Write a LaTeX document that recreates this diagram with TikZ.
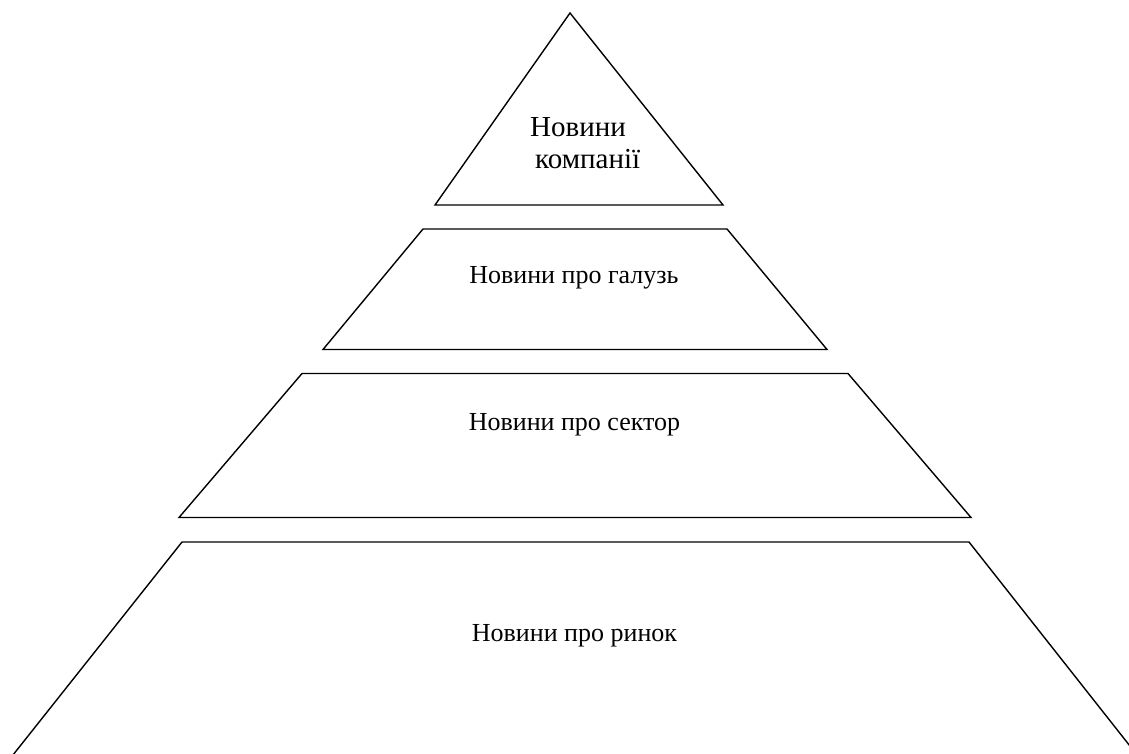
\documentclass[tikz,border=0pt]{standalone}
\usepackage{fontspec}
\setmainfont{Liberation Serif}
\begin{document}
\begin{tikzpicture}[x=1pt,y=-1pt,
  tier/.style={draw=black,line width=1.4pt,line join=miter},
  lbl/.style={font=\fontsize{26}{30}\selectfont,anchor=base,inner sep=0pt},
  toplbl/.style={font=\fontsize{29}{33}\selectfont,anchor=base west,inner sep=0pt}]
\useasboundingbox (0,0) rectangle (1129,754);
\fill[white] (0,0) rectangle (1129,754);
\clip (0,0) rectangle (1129,754);
% tier 1 (triangle)
\draw[tier] (435,205) -- (570,13) -- (723,205) -- cycle;
% tier 2
\draw[tier] (323,349.5) -- (423,229) -- (727,229) -- (827,349.5) -- cycle;
% tier 3
\draw[tier] (179,517.5) -- (302,373.5) -- (848,373.5) -- (971,517.5) -- cycle;
% tier 4
\draw[tier] (9,760) -- (182,542) -- (969,542) -- (1141,760);
% labels
\node[toplbl] (t1a) at (530,137) {Новини};
\node[toplbl] (t1b) at (535,169) {компанії};
\node[lbl] (t2) at (574,283) {Новини про галузь};
\node[lbl] (t3) at (574.5,430) {Новини про сектор};
\node[lbl] (t4) at (574.5,641) {Новини про ринок};
\end{tikzpicture}
\end{document}
